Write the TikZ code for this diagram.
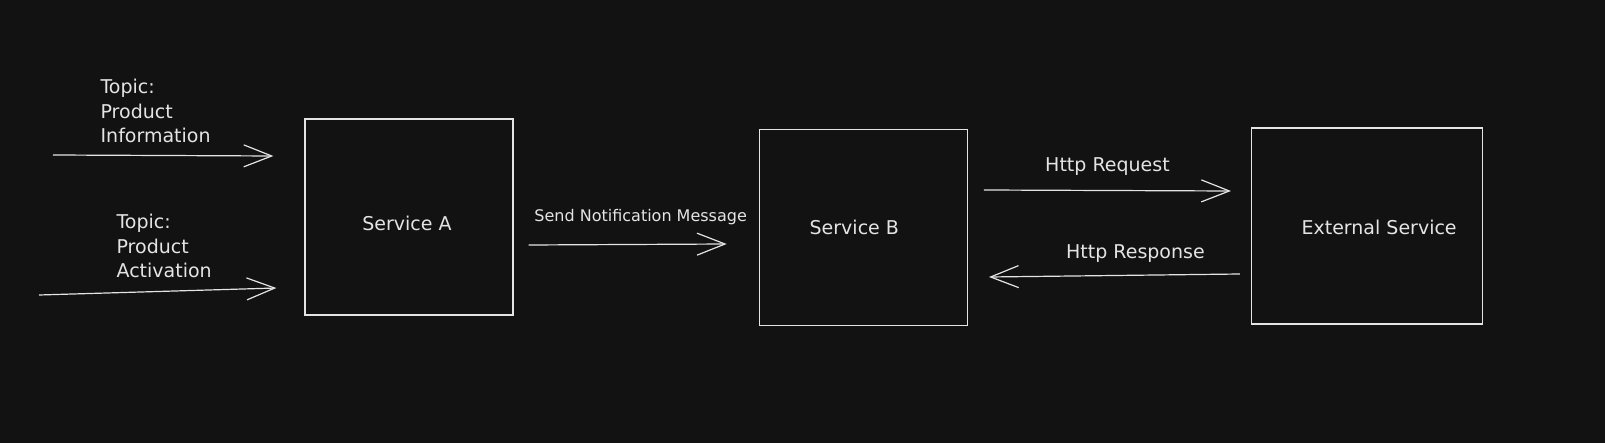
\documentclass[tikz,border=0pt]{standalone}
\usepackage{fontspec}
\setmainfont{DejaVu Sans}
\usetikzlibrary{arrows.meta,positioning,calc}
\definecolor{bgdark}{HTML}{121212}
\definecolor{chalk}{HTML}{E4E4E4}

\begin{document}
\begin{tikzpicture}[x=1pt,y=-1pt,->,>={Straight Barb[length=28pt,width=22pt]},
                    color=chalk,line width=1.2pt,
                    font=\fontsize{19}{24.5}\selectfont,
                    service/.style={draw,-,line width=1.3pt,minimum width=208pt,
                                    minimum height=196pt,inner sep=0pt},
                    topic/.style={align=left,inner sep=0pt,anchor=west}]
  \fill[bgdark] (0,0) rectangle (1605,443);

  \node[service]         (A) at (409,217)                        {};
  \node[service]         (B) [right=245pt of A, yshift=-10.5pt]  {};
  \node[service, minimum width=231pt]
                         (E) [right=283pt of B, yshift=1.5pt]    {};

  \node (nameA) at ($(A)+(-2,6)$)  {Service A};
  \node (nameB) at ($(B)+(-9,0)$)  {Service B};
  \node (nameE) at ($(E)+(12,1)$)  {External Service};

  \node[topic]           (TI) at (100,111) {Topic:\\Product\\Information};
  \node[topic]           (TA) at (116,246) {Topic:\\Product\\Activation};

  \coordinate (in1) at (53,155);
  \coordinate (in2) at (39,295);

  \draw (in1) -- ($(A.west)+(-31,-61)$);
  \draw (in2) -- ($(A.west)+(-28,71)$);
  \draw ($(A.east)+(15,28)$) -- node[above=15.5pt, xshift=13pt, font=\fontsize{16}{19}\selectfont] (send)
                 {Send Notification Message} ($(B.west)+(-32,16.5)$);
  \draw ($(B.east)+(16,-37.5)$) -- node[above=11.5pt] (req) {Http Request}
                 ($(E.west)+(-20,-35)$);
  \draw ($(E.west)+(-11,48)$) -- node[above=9.5pt, xshift=21pt] (resp) {Http Response}
                 ($(B.east)+(21,49.5)$);
\end{tikzpicture}
\end{document}
